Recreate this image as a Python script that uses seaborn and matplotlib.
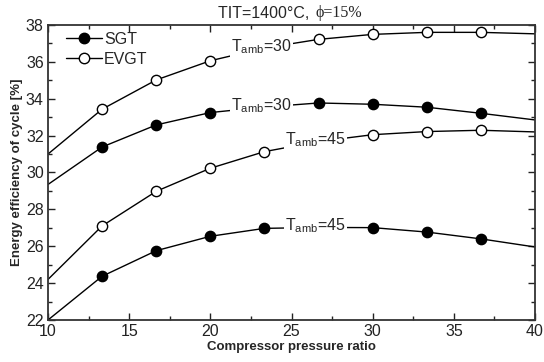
import matplotlib
matplotlib.use("Agg")
import matplotlib.pyplot as plt
import seaborn as sns
import pandas as pd
import numpy as np
from matplotlib.ticker import MultipleLocator

pressure_ratio = [10, 13.33, 16.67, 20, 23.33, 26.67, 30, 33.33, 36.67, 40]
sgt_30 = [29.35, 31.38, 32.58, 33.25, 33.55, 33.77, 33.70, 33.54, 33.21, 32.85]
evgt_30 = [31.0, 33.43, 35.02, 36.06, 36.75, 37.22, 37.49, 37.60, 37.60, 37.52]
evgt_45 = [24.2, 27.10, 28.98, 30.23, 31.13, 31.68, 32.05, 32.22, 32.29, 32.20]
sgt_45 = [22.0, 24.37, 25.76, 26.54, 26.97, 27.02, 27.01, 26.77, 26.40, 25.96]

# (series, label text, index of point where the label sits)
curves = [
    ("SGT", "30", sgt_30, 4),
    ("EVGT", "30", evgt_30, 4),
    ("EVGT", "45", evgt_45, 5),
    ("SGT", "45", sgt_45, 5),
]

sns.set_style("ticks")
plt.rcParams["font.family"] = ["Liberation Sans", "DejaVu Sans"]
plt.rcParams["mathtext.fontset"] = "custom"
plt.rcParams["mathtext.rm"] = "Liberation Sans"
plt.rcParams["mathtext.it"] = "Liberation Sans:italic"

fig = plt.figure(figsize=(5.44, 3.62), dpi=100)
ax = fig.add_axes([0.0882, 0.116, 0.8953, 0.815])

for i, (kind, tamb, vals, lab_idx) in enumerate(curves):
    df = pd.DataFrame({"x": pressure_ratio, "y": vals})
    sns.lineplot(data=df, x="x", y="y", ax=ax, color="black", lw=1.0, zorder=2)
    mk = df.iloc[1:-1].drop(index=lab_idx)
    face = "black" if kind == "SGT" else "white"
    sns.scatterplot(data=mk, x="x", y="y", ax=ax, s=55, facecolor=face,
                    edgecolor="black", linewidth=1.0, zorder=3)
    ax.text(pressure_ratio[lab_idx] - 0.2, vals[lab_idx] + 0.1, r"T$_{\mathrm{amb}}$=" + tamb,
            ha="center", va="center", fontsize=11.5, zorder=4,
            bbox=dict(facecolor="white", edgecolor="none", pad=0.8))

# legend
ax.plot([], [], color="black", lw=1.0, marker="o", ms=7.5, mfc="black",
        mec="black", label="SGT")
ax.plot([], [], color="black", lw=1.0, marker="o", ms=7.5, mfc="white",
        mec="black", label="EVGT")
ax.legend(loc="upper left", frameon=False, fontsize=11.5, handlelength=2.2,
          handletextpad=0.15, labelspacing=0.3, borderaxespad=0.3,
          bbox_to_anchor=(0.015, 1.015))

ax.set_xlim(10, 40)
ax.set_ylim(22, 38)
ax.xaxis.set_major_locator(MultipleLocator(5))
ax.xaxis.set_minor_locator(MultipleLocator(2.5))
ax.yaxis.set_major_locator(MultipleLocator(2))
ax.yaxis.set_minor_locator(MultipleLocator(1))
ax.tick_params(which="both", direction="in", top=True, right=True,
               labelsize=11.5, width=1.0, colors="#222222", pad=3)
ax.tick_params(which="major", length=5)
ax.tick_params(which="minor", length=3)
for s in ax.spines.values():
    s.set_linewidth(1.3)
    s.set_color("#333333")

ax.set_xlabel("Compressor pressure ratio", fontsize=9.5, fontweight="bold", labelpad=1)
ax.set_ylabel("Energy efficiency of cycle [%]", fontsize=9.5, fontweight="bold", labelpad=2)

fig.text(314 / 544, 1 - 13 / 362, "TIT=1400°C, ", ha="right", va="center", fontsize=11.5)
fig.text(315 / 544, 1 - 13 / 362, "ϕ=15%", ha="left", va="center", fontsize=11.5,
         family=["Liberation Serif", "DejaVu Serif"])

fig.savefig("out.png", dpi=100)
